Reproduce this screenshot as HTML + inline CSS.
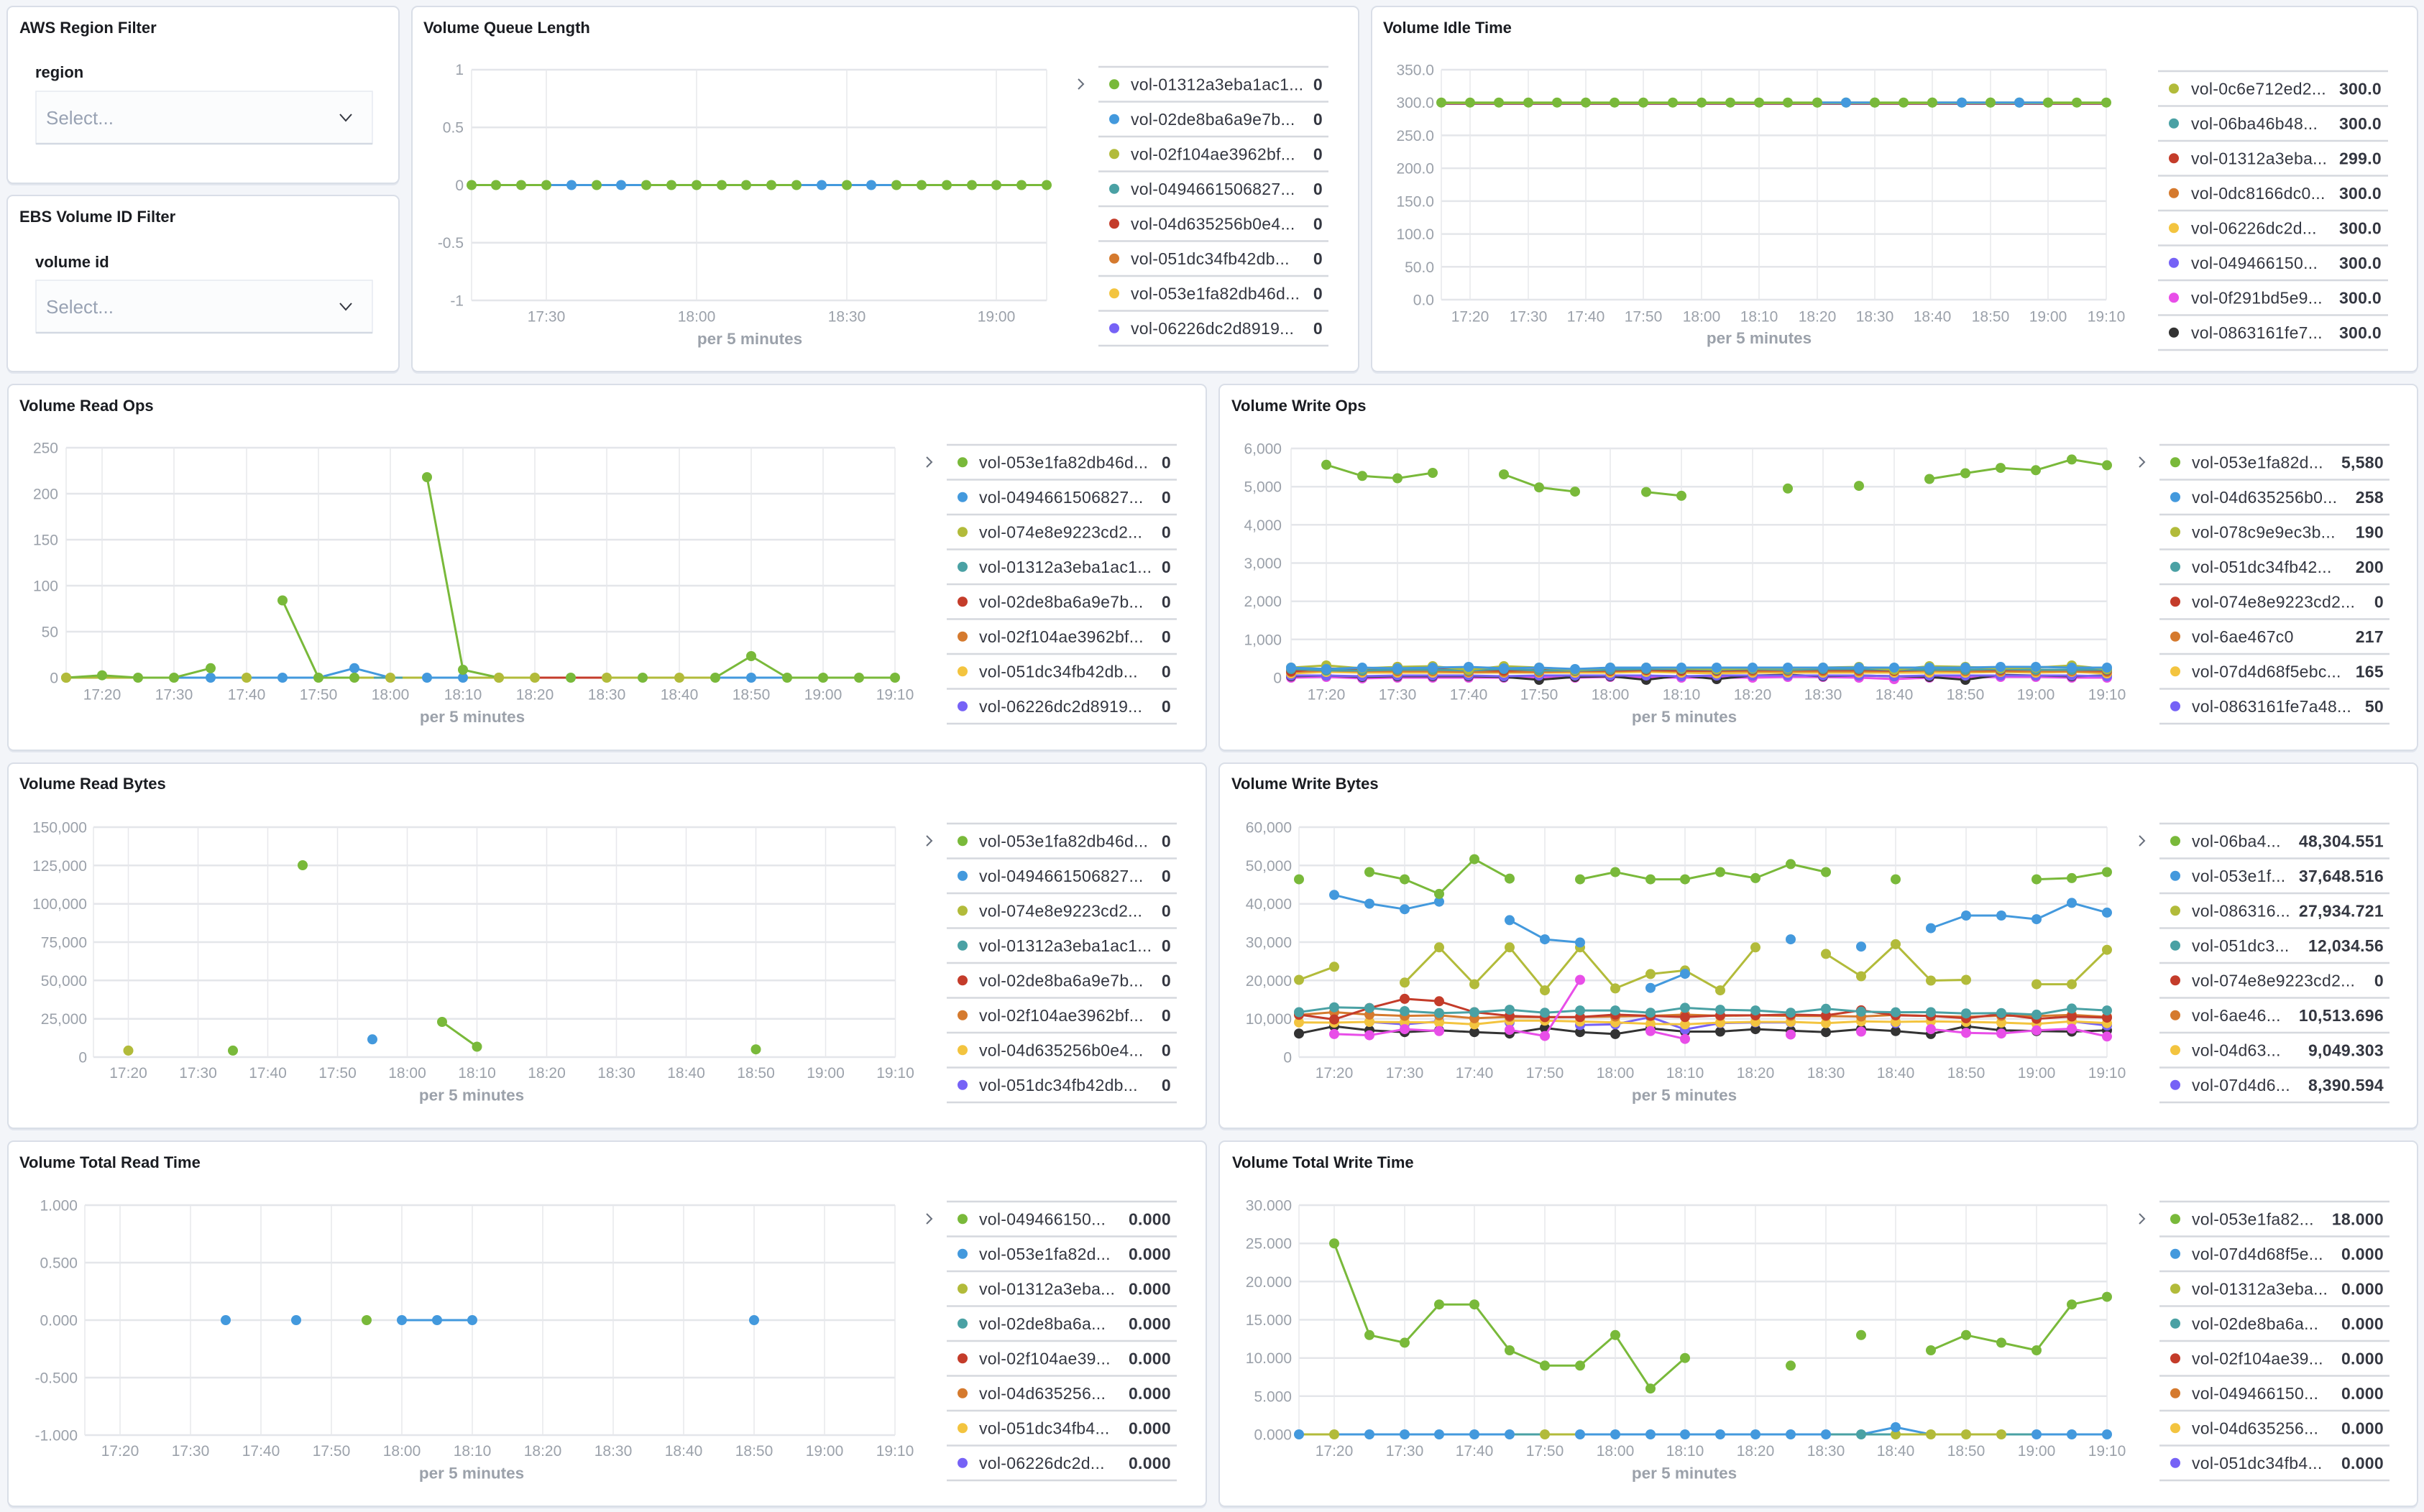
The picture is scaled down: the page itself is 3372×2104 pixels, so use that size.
<!DOCTYPE html>
<html><head><meta charset="utf-8">
<style>
html,body{margin:0;padding:0;background:#f3f5f9;}
svg{display:block}
text{font-family:"Liberation Sans",sans-serif}
.pn{fill:#fff;stroke:#d9dee7;stroke-width:2}
.sh{fill:#e2e6ee}
.t{font-size:22px;font-weight:bold;fill:#1a1c21}
.lb{font-size:22px;font-weight:bold;fill:#1a1c21}
.sel{font-size:26px;fill:#98a2b3}
.yl{font-size:21px;fill:#9ba1aa;text-anchor:end}
.xl{font-size:21px;fill:#9ba1aa;text-anchor:middle}
.ax{font-size:22.5px;font-weight:bold;fill:#9ba1aa;text-anchor:middle}
.hg{stroke:#e4e6ea;stroke-width:2.5;fill:none}
.vg{stroke:#e7e8ec;stroke-width:1.5;fill:none}
.lg{font-size:23px;letter-spacing:0.3px;fill:#343741}
.lv{font-size:23px;letter-spacing:0.3px;font-weight:bold;fill:#343741;text-anchor:end}
.sp{stroke:#d5d8de;stroke-width:2.5;fill:none}
.cv{stroke:#69707d;stroke-width:2;fill:none}
.l{fill:none;stroke-width:3;stroke-linejoin:round}
.d{fill:none;stroke:none}
.cG{stroke:#79b93a}.cB{stroke:#4399dd}.cO{stroke:#b2bb3a}.cT{stroke:#4aa1a4}.cR{stroke:#c43c2a}
.cN{stroke:#d57a2e}.cY{stroke:#f3c43f}.cP{stroke:#7662f6}.cM{stroke:#e84ee8}.cK{stroke:#333333}
.mG{marker-start:url(#G);marker-mid:url(#G);marker-end:url(#G)}
.mB{marker-start:url(#B);marker-mid:url(#B);marker-end:url(#B)}
.mO{marker-start:url(#O);marker-mid:url(#O);marker-end:url(#O)}
.mT{marker-start:url(#T);marker-mid:url(#T);marker-end:url(#T)}
.mR{marker-start:url(#R);marker-mid:url(#R);marker-end:url(#R)}
.mN{marker-start:url(#N);marker-mid:url(#N);marker-end:url(#N)}
.mY{marker-start:url(#Y);marker-mid:url(#Y);marker-end:url(#Y)}
.mP{marker-start:url(#P);marker-mid:url(#P);marker-end:url(#P)}
.mM{marker-start:url(#M);marker-mid:url(#M);marker-end:url(#M)}
.mK{marker-start:url(#K);marker-mid:url(#K);marker-end:url(#K)}
</style></head>
<body>
<svg width="3372" height="2104" viewBox="0 0 3372 2104" xmlns="http://www.w3.org/2000/svg">
<defs>
<marker id="G" markerUnits="userSpaceOnUse" markerWidth="16" markerHeight="16" refX="8" refY="8" viewBox="0 0 16 16"><circle cx="8" cy="8" r="7" fill="#79b93a"/></marker>
<marker id="B" markerUnits="userSpaceOnUse" markerWidth="16" markerHeight="16" refX="8" refY="8" viewBox="0 0 16 16"><circle cx="8" cy="8" r="7" fill="#4399dd"/></marker>
<marker id="O" markerUnits="userSpaceOnUse" markerWidth="16" markerHeight="16" refX="8" refY="8" viewBox="0 0 16 16"><circle cx="8" cy="8" r="7" fill="#b2bb3a"/></marker>
<marker id="T" markerUnits="userSpaceOnUse" markerWidth="16" markerHeight="16" refX="8" refY="8" viewBox="0 0 16 16"><circle cx="8" cy="8" r="7" fill="#4aa1a4"/></marker>
<marker id="R" markerUnits="userSpaceOnUse" markerWidth="16" markerHeight="16" refX="8" refY="8" viewBox="0 0 16 16"><circle cx="8" cy="8" r="7" fill="#c43c2a"/></marker>
<marker id="N" markerUnits="userSpaceOnUse" markerWidth="16" markerHeight="16" refX="8" refY="8" viewBox="0 0 16 16"><circle cx="8" cy="8" r="7" fill="#d57a2e"/></marker>
<marker id="Y" markerUnits="userSpaceOnUse" markerWidth="16" markerHeight="16" refX="8" refY="8" viewBox="0 0 16 16"><circle cx="8" cy="8" r="7" fill="#f3c43f"/></marker>
<marker id="P" markerUnits="userSpaceOnUse" markerWidth="16" markerHeight="16" refX="8" refY="8" viewBox="0 0 16 16"><circle cx="8" cy="8" r="7" fill="#7662f6"/></marker>
<marker id="M" markerUnits="userSpaceOnUse" markerWidth="16" markerHeight="16" refX="8" refY="8" viewBox="0 0 16 16"><circle cx="8" cy="8" r="7" fill="#e84ee8"/></marker>
<marker id="K" markerUnits="userSpaceOnUse" markerWidth="16" markerHeight="16" refX="8" refY="8" viewBox="0 0 16 16"><circle cx="8" cy="8" r="7" fill="#333333"/></marker>
</defs>
<rect x="0" y="0" width="3372" height="2104" fill="#f3f5f9"/>

<!-- panel shadows -->
<g class="sh">
<rect x="10" y="12" width="545" height="246" rx="8"/>
<rect x="10" y="275" width="545" height="245" rx="8"/>
<rect x="573" y="12" width="1317" height="508" rx="8"/>
<rect x="1908" y="12" width="1455" height="508" rx="8"/>
<rect x="11" y="538" width="1667" height="509" rx="8"/>
<rect x="1696" y="538" width="1667" height="509" rx="8"/>
<rect x="11" y="1065" width="1667" height="508" rx="8"/>
<rect x="1696" y="1065" width="1667" height="508" rx="8"/>
<rect x="11" y="1591" width="1667" height="508" rx="8"/>
<rect x="1696" y="1591" width="1667" height="508" rx="8"/>
</g>
<g class="pn">
<rect x="10" y="9" width="545" height="246" rx="8"/>
<rect x="10" y="272" width="545" height="245" rx="8"/>
<rect x="573" y="9" width="1317" height="508" rx="8"/>
<rect x="1908" y="9" width="1455" height="508" rx="8"/>
<rect x="11" y="535" width="1667" height="509" rx="8"/>
<rect x="1696" y="535" width="1667" height="509" rx="8"/>
<rect x="11" y="1062" width="1667" height="508" rx="8"/>
<rect x="1696" y="1062" width="1667" height="508" rx="8"/>
<rect x="11" y="1588" width="1667" height="508" rx="8"/>
<rect x="1696" y="1588" width="1667" height="508" rx="8"/>
</g>

<!-- Filters -->
<text class="t" x="27" y="46">AWS Region Filter</text>
<text class="lb" x="49" y="108">region</text>
<rect x="50" y="127" width="468" height="73" fill="#fbfcfd" stroke="#e6eaf0" stroke-width="1.5"/>
<path d="M50 200H518" stroke="#d3d9e3" stroke-width="2.5"/>
<text class="sel" x="64" y="173">Select...</text>
<polyline points="473,159 481,168 489,159" fill="none" stroke="#343741" stroke-width="2"/>

<text class="t" x="27" y="309">EBS Volume ID Filter</text>
<text class="lb" x="49" y="372">volume id</text>
<rect x="50" y="390" width="468" height="73" fill="#fbfcfd" stroke="#e6eaf0" stroke-width="1.5"/>
<path d="M50 463H518" stroke="#d3d9e3" stroke-width="2.5"/>
<text class="sel" x="64" y="436">Select...</text>
<polyline points="473,422 481,431 489,422" fill="none" stroke="#343741" stroke-width="2"/>

<!-- ================= Volume Queue Length ================= -->
<text class="t" x="589" y="46">Volume Queue Length</text>
<path class="hg" d="M656 97H1456M656 177.25H1456M656 257.5H1456M656 337.75H1456M656 418H1456"/>
<path class="vg" d="M656 97V418M760 97V418M969 97V418M1178 97V418M1386 97V418M1456 97V418"/>
<g class="yl"><text x="645" y="104">1</text><text x="645" y="184.5">0.5</text><text x="645" y="265">0</text><text x="645" y="345">-0.5</text><text x="645" y="425.5">-1</text></g>
<g class="xl"><text x="760" y="447.5">17:30</text><text x="969" y="447.5">18:00</text><text x="1178" y="447.5">18:30</text><text x="1386" y="447.5">19:00</text></g>
<text class="ax" x="1043" y="479">per 5 minutes</text>
<path class="l cG" d="M656 257.5H1456"/>
<path class="l cB" d="M760 257.5H899M1108 257.5H1247"/>
<polyline class="d mG" points="656,257.5 690,257.5 725,257.5 760,257.5 830,257.5 899,257.5 934,257.5 969,257.5 1004,257.5 1038,257.5 1073,257.5 1108,257.5 1178,257.5 1247,257.5 1282,257.5 1317,257.5 1352,257.5 1386,257.5 1421,257.5 1456,257.5"/>
<g fill="#4399dd"><circle cx="795" cy="257.5" r="7"/><circle cx="864" cy="257.5" r="7"/><circle cx="1143" cy="257.5" r="7"/><circle cx="1212" cy="257.5" r="7"/></g>
<g transform="translate(1528,93)">
<polyline class="cv" points="-28,17 -21,24 -28,31"/>
<path class="sp" d="M0 0H320M0 48.5H320M0 97H320M0 145.5H320M0 194H320M0 242.5H320M0 291H320M0 339.5H320M0 388H320"/>
<circle cx="22" cy="24.25" r="7" fill="#79b93a"/><circle cx="22" cy="72.75" r="7" fill="#4399dd"/><circle cx="22" cy="121.25" r="7" fill="#b2bb3a"/><circle cx="22" cy="169.75" r="7" fill="#4aa1a4"/><circle cx="22" cy="218.25" r="7" fill="#c43c2a"/><circle cx="22" cy="266.75" r="7" fill="#d57a2e"/><circle cx="22" cy="315.25" r="7" fill="#f3c43f"/><circle cx="22" cy="363.75" r="7" fill="#7662f6"/>
<g class="lg"><text x="45" y="32.6">vol-01312a3eba1ac1...</text><text x="45" y="81.1">vol-02de8ba6a9e7b...</text><text x="45" y="129.6">vol-02f104ae3962bf...</text><text x="45" y="178.1">vol-0494661506827...</text><text x="45" y="226.6">vol-04d635256b0e4...</text><text x="45" y="275.1">vol-051dc34fb42db...</text><text x="45" y="323.6">vol-053e1fa82db46d...</text><text x="45" y="372.1">vol-06226dc2d8919...</text></g>
<g class="lv"><text x="312" y="32.6">0</text><text x="312" y="81.1">0</text><text x="312" y="129.6">0</text><text x="312" y="178.1">0</text><text x="312" y="226.6">0</text><text x="312" y="275.1">0</text><text x="312" y="323.6">0</text><text x="312" y="372.1">0</text></g>
</g>

<!-- ================= Volume Idle Time ================= -->
<text class="t" x="1924" y="46">Volume Idle Time</text>
<path class="hg" d="M2005 97H2930M2005 142.7H2930M2005 188.4H2930M2005 234.1H2930M2005 279.9H2930M2005 325.6H2930M2005 371.3H2930M2005 417H2930"/>
<path class="vg" d="M2005 97V417M2045 97V417M2126 97V417M2206 97V417M2286 97V417M2367 97V417M2447 97V417M2528 97V417M2608 97V417M2688 97V417M2769 97V417M2849 97V417M2930 97V417"/>
<g class="yl"><text x="1995" y="104.5">350.0</text><text x="1995" y="150.2">300.0</text><text x="1995" y="195.9">250.0</text><text x="1995" y="241.6">200.0</text><text x="1995" y="287.4">150.0</text><text x="1995" y="333.1">100.0</text><text x="1995" y="378.8">50.0</text><text x="1995" y="424.5">0.0</text></g>
<g class="xl"><text x="2045" y="447.5">17:20</text><text x="2126" y="447.5">17:30</text><text x="2206" y="447.5">17:40</text><text x="2286" y="447.5">17:50</text><text x="2367" y="447.5">18:00</text><text x="2447" y="447.5">18:10</text><text x="2528" y="447.5">18:20</text><text x="2608" y="447.5">18:30</text><text x="2688" y="447.5">18:40</text><text x="2769" y="447.5">18:50</text><text x="2849" y="447.5">19:00</text><text x="2930" y="447.5">19:10</text></g>
<text class="ax" x="2447" y="478">per 5 minutes</text>
<path class="l cR" d="M2005 144.5H2930"/>
<path class="l cP" d="M2005 144H2930"/>
<path class="l cO" d="M2005 143.5H2930"/>
<polyline class="l cG mG" points="2005,142.7 2045,142.7 2085,142.7 2126,142.7 2166,142.7 2206,142.7 2246,142.7 2286,142.7 2327,142.7 2367,142.7 2407,142.7 2447,142.7 2487,142.7 2528,142.7 2568,142.7 2608,142.7 2648,142.7 2688,142.7 2729,142.7 2769,142.7 2809,142.7 2849,142.7 2889,142.7 2930,142.7"/>
<path class="l cB" d="M2528 142.7H2608M2688 142.7H2849"/>
<g fill="#4399dd"><circle cx="2568" cy="142.7" r="7"/><circle cx="2729" cy="142.7" r="7"/><circle cx="2809" cy="142.7" r="7"/></g>
<polyline class="d mG" points="2528,142.7 2608,142.7 2688,142.7 2769,142.7 2849,142.7"/>
<g transform="translate(3002,99)">
<path class="sp" d="M0 0H320M0 48.5H320M0 97H320M0 145.5H320M0 194H320M0 242.5H320M0 291H320M0 339.5H320M0 388H320"/>
<circle cx="22" cy="24.25" r="7" fill="#b2bb3a"/><circle cx="22" cy="72.75" r="7" fill="#4aa1a4"/><circle cx="22" cy="121.25" r="7" fill="#c43c2a"/><circle cx="22" cy="169.75" r="7" fill="#d57a2e"/><circle cx="22" cy="218.25" r="7" fill="#f3c43f"/><circle cx="22" cy="266.75" r="7" fill="#7662f6"/><circle cx="22" cy="315.25" r="7" fill="#e84ee8"/><circle cx="22" cy="363.75" r="7" fill="#333333"/>
<g class="lg"><text x="46" y="32.6">vol-0c6e712ed2...</text><text x="46" y="81.1">vol-06ba46b48...</text><text x="46" y="129.6">vol-01312a3eba...</text><text x="46" y="178.1">vol-0dc8166dc0...</text><text x="46" y="226.6">vol-06226dc2d...</text><text x="46" y="275.1">vol-049466150...</text><text x="46" y="323.6">vol-0f291bd5e9...</text><text x="46" y="372.1">vol-0863161fe7...</text></g>
<g class="lv"><text x="311" y="32.6">300.0</text><text x="311" y="81.1">300.0</text><text x="311" y="129.6">299.0</text><text x="311" y="178.1">300.0</text><text x="311" y="226.6">300.0</text><text x="311" y="275.1">300.0</text><text x="311" y="323.6">300.0</text><text x="311" y="372.1">300.0</text></g>
</g>

<!-- ================= Volume Read Ops ================= -->
<text class="t" x="27" y="572">Volume Read Ops</text>
<path class="hg" d="M92 623H1245M92 687H1245M92 751H1245M92 815H1245M92 879H1245M92 943H1245"/>
<path class="vg" d="M92 623V943M142 623V943M242 623V943M343 623V943M443 623V943M543 623V943M644 623V943M744 623V943M844 623V943M945 623V943M1045 623V943M1145 623V943M1245 623V943"/>
<g class="yl"><text x="81" y="630.5">250</text><text x="81" y="694.5">200</text><text x="81" y="758.5">150</text><text x="81" y="822.5">100</text><text x="81" y="886.5">50</text><text x="81" y="950.5">0</text></g>
<g class="xl"><text x="142" y="973.5">17:20</text><text x="242" y="973.5">17:30</text><text x="343" y="973.5">17:40</text><text x="443" y="973.5">17:50</text><text x="543" y="973.5">18:00</text><text x="644" y="973.5">18:10</text><text x="744" y="973.5">18:20</text><text x="844" y="973.5">18:30</text><text x="945" y="973.5">18:40</text><text x="1045" y="973.5">18:50</text><text x="1145" y="973.5">19:00</text><text x="1245" y="973.5">19:10</text></g>
<text class="ax" x="657" y="1005">per 5 minutes</text>
<path class="l cO" d="M92 943H1245"/>
<path class="l cT" d="M520 943H560"/>
<path class="l cR" d="M744 943H844"/>
<path class="l cB" d="M242 943H443L493 929.8L543 943M594 943H644M995 943H1095"/>
<g fill="#4399dd"><circle cx="293" cy="943" r="7"/><circle cx="393" cy="943" r="7"/><circle cx="493" cy="929.8" r="7"/><circle cx="594" cy="943" r="7"/><circle cx="644" cy="943" r="7"/><circle cx="1045" cy="943" r="7"/></g>
<polyline class="l cG mG" points="92,943 142,939.7 192,943 242,943 293,929.8"/>
<polyline class="l cG mG" points="393,835.5 443,943 493,943"/>
<polyline class="l cG mG" points="594,664 644,932 694,943"/>
<polyline class="l cG mG" points="995,943 1045,913 1095,943 1145,943 1195,943 1245,943"/>
<polyline class="d mG" points="794,943 894,943"/>
<polyline class="d mO" points="92,943 343,943 543,943 694,943 744,943 844,943 945,943"/>
<g transform="translate(1317,619)">
<polyline class="cv" points="-28,17 -21,24 -28,31"/>
<path class="sp" d="M0 0H320M0 48.5H320M0 97H320M0 145.5H320M0 194H320M0 242.5H320M0 291H320M0 339.5H320M0 388H320"/>
<circle cx="22" cy="24.25" r="7" fill="#79b93a"/><circle cx="22" cy="72.75" r="7" fill="#4399dd"/><circle cx="22" cy="121.25" r="7" fill="#b2bb3a"/><circle cx="22" cy="169.75" r="7" fill="#4aa1a4"/><circle cx="22" cy="218.25" r="7" fill="#c43c2a"/><circle cx="22" cy="266.75" r="7" fill="#d57a2e"/><circle cx="22" cy="315.25" r="7" fill="#f3c43f"/><circle cx="22" cy="363.75" r="7" fill="#7662f6"/>
<g class="lg"><text x="45" y="32.6">vol-053e1fa82db46d...</text><text x="45" y="81.1">vol-0494661506827...</text><text x="45" y="129.6">vol-074e8e9223cd2...</text><text x="45" y="178.1">vol-01312a3eba1ac1...</text><text x="45" y="226.6">vol-02de8ba6a9e7b...</text><text x="45" y="275.1">vol-02f104ae3962bf...</text><text x="45" y="323.6">vol-051dc34fb42db...</text><text x="45" y="372.1">vol-06226dc2d8919...</text></g>
<g class="lv"><text x="312" y="32.6">0</text><text x="312" y="81.1">0</text><text x="312" y="129.6">0</text><text x="312" y="178.1">0</text><text x="312" y="226.6">0</text><text x="312" y="275.1">0</text><text x="312" y="323.6">0</text><text x="312" y="372.1">0</text></g>
</g>

<!-- ================= Volume Write Ops ================= -->
<text class="t" x="1713" y="572">Volume Write Ops</text>
<path class="hg" d="M1796 624H2931M1796 677.2H2931M1796 730.3H2931M1796 783.5H2931M1796 836.7H2931M1796 889.8H2931M1796 943H2931"/>
<path class="vg" d="M1796 624V943M1845 624V943M1944 624V943M2043 624V943M2141 624V943M2240 624V943M2339 624V943M2438 624V943M2536 624V943M2635 624V943M2734 624V943M2832 624V943M2931 624V943"/>
<g class="yl"><text x="1783" y="631.5">6,000</text><text x="1783" y="684.7">5,000</text><text x="1783" y="737.8">4,000</text><text x="1783" y="791">3,000</text><text x="1783" y="844.2">2,000</text><text x="1783" y="897.3">1,000</text><text x="1783" y="950.5">0</text></g>
<g class="xl"><text x="1845" y="973.5">17:20</text><text x="1944" y="973.5">17:30</text><text x="2043" y="973.5">17:40</text><text x="2141" y="973.5">17:50</text><text x="2240" y="973.5">18:00</text><text x="2339" y="973.5">18:10</text><text x="2438" y="973.5">18:20</text><text x="2536" y="973.5">18:30</text><text x="2635" y="973.5">18:40</text><text x="2734" y="973.5">18:50</text><text x="2832" y="973.5">19:00</text><text x="2931" y="973.5">19:10</text></g>
<text class="ax" x="2343" y="1005">per 5 minutes</text>
<polyline class="l cM mM" points="1796,943 1845,942 1895,944 1944,943 1993,943 2043,943 2092,943 2141,943 2191,943 2240,942 2290,943 2339,943 2388,943 2438,943 2487,942 2536,942 2586,943 2635,945 2684,943 2734,943 2783,942 2832,942 2882,943 2931,943"/>
<polyline class="l cK mK" points="1796,941 1845,940 1895,942 1944,941 1993,941 2043,941 2092,942 2141,946 2191,942 2240,941 2290,946 2339,940 2388,945 2438,940 2487,939 2536,941 2586,940 2635,941 2684,942 2734,946 2783,939 2832,940 2882,941 2931,940"/>
<polyline class="l cP mP" points="1796,940 1845,940 1895,941 1944,940 1993,940 2043,940 2092,941 2141,940 2191,940 2240,940 2290,940 2339,941 2388,940 2438,940 2487,940 2536,940 2586,940 2635,941 2684,940 2734,940 2783,940 2832,940 2882,940 2931,941"/>
<polyline class="l cY mY" points="1796,937 1845,935 1895,936 1944,936 1993,936 2043,936 2092,936 2141,936 2191,936 2240,936 2290,935 2339,936 2388,937 2438,936 2487,936 2536,936 2586,936 2635,936 2684,936 2734,936 2783,935 2832,936 2882,935 2931,937"/>
<polyline class="l cN mN" points="1796,935 1845,933 1895,934 1944,934 1993,934 2043,935 2092,935 2141,935 2191,934 2240,934 2290,933 2339,934 2388,934 2438,934 2487,934 2536,934 2586,934 2635,934 2684,933 2734,934 2783,934 2832,934 2882,934 2931,935"/>
<polyline class="l cR mR" points="1796,934 1845,930 1895,932 1944,928 1993,929 2043,932 2092,933 2141,932 2191,933 2240,933 2290,932 2339,933 2388,933 2438,932 2487,932 2536,932 2586,932 2635,933 2684,932 2734,932 2783,932 2832,932 2882,932 2931,933"/>
<polyline class="l cT mT" points="1796,931 1845,933 1895,933 1944,932 1993,932 2043,933 2092,931 2141,933 2191,933 2240,932 2290,931 2339,931 2388,932 2438,931 2487,932 2536,931 2586,931 2635,932 2684,932 2734,932 2783,931 2832,932 2882,932 2931,932"/>
<polyline class="l cO mO" points="1796,929 1845,926 1895,930 1944,928 1993,927 2043,932 2092,927 2141,929 2191,932 2240,929 2290,929 2339,930 2388,931 2438,930 2487,930 2536,929 2586,928 2635,932 2684,927 2734,928 2783,930 2832,929 2882,926 2931,931"/>
<polyline class="l cB mB" points="1796,929 1845,931 1895,929 1944,930 1993,929 2043,928 2092,930 2141,929 2191,931 2240,929 2290,929 2339,929 2388,929 2438,929 2487,929 2536,929 2586,929 2635,929 2684,929 2734,929 2783,928 2832,928 2882,929 2931,929"/>
<polyline class="l cG mG" points="1845,646.8 1895,662.3 1944,665.5 1993,658"/>
<polyline class="l cG mG" points="2092,660.1 2141,678.2 2191,684.1"/>
<polyline class="l cG mG" points="2290,684.6 2339,689.9"/>
<polyline class="d mG" points="2487,679.8 2586,676.1"/>
<polyline class="l cG mG" points="2684,666.5 2734,658.5 2783,651.1 2832,654.3 2882,639.4 2931,647.4"/>
<g transform="translate(3004,619)">
<polyline class="cv" points="-28,17 -21,24 -28,31"/>
<path class="sp" d="M0 0H320M0 48.5H320M0 97H320M0 145.5H320M0 194H320M0 242.5H320M0 291H320M0 339.5H320M0 388H320"/>
<circle cx="22" cy="24.25" r="7" fill="#79b93a"/><circle cx="22" cy="72.75" r="7" fill="#4399dd"/><circle cx="22" cy="121.25" r="7" fill="#b2bb3a"/><circle cx="22" cy="169.75" r="7" fill="#4aa1a4"/><circle cx="22" cy="218.25" r="7" fill="#c43c2a"/><circle cx="22" cy="266.75" r="7" fill="#d57a2e"/><circle cx="22" cy="315.25" r="7" fill="#f3c43f"/><circle cx="22" cy="363.75" r="7" fill="#7662f6"/>
<g class="lg"><text x="45" y="32.6">vol-053e1fa82d...</text><text x="45" y="81.1">vol-04d635256b0...</text><text x="45" y="129.6">vol-078c9e9ec3b...</text><text x="45" y="178.1">vol-051dc34fb42...</text><text x="45" y="226.6">vol-074e8e9223cd2...</text><text x="45" y="275.1">vol-6ae467c0</text><text x="45" y="323.6">vol-07d4d68f5ebc...</text><text x="45" y="372.1">vol-0863161fe7a48...</text></g>
<g class="lv"><text x="312" y="32.6">5,580</text><text x="312" y="81.1">258</text><text x="312" y="129.6">190</text><text x="312" y="178.1">200</text><text x="312" y="226.6">0</text><text x="312" y="275.1">217</text><text x="312" y="323.6">165</text><text x="312" y="372.1">50</text></g>
</g>

<!-- ================= Volume Read Bytes ================= -->
<text class="t" x="27" y="1098">Volume Read Bytes</text>
<path class="hg" d="M130 1151H1245.5M130 1204.3H1245.5M130 1257.7H1245.5M130 1311H1245.5M130 1364.3H1245.5M130 1417.7H1245.5M130 1471H1245.5"/>
<path class="vg" d="M130 1151V1471M178.5 1151V1471M275.5 1151V1471M372.5 1151V1471M469.5 1151V1471M566.5 1151V1471M663.5 1151V1471M760.5 1151V1471M857.5 1151V1471M954.5 1151V1471M1051.5 1151V1471M1148.5 1151V1471M1245.5 1151V1471"/>
<g class="yl"><text x="121" y="1158.5">150,000</text><text x="121" y="1211.8">125,000</text><text x="121" y="1265.2">100,000</text><text x="121" y="1318.5">75,000</text><text x="121" y="1371.8">50,000</text><text x="121" y="1425.2">25,000</text><text x="121" y="1478.5">0</text></g>
<g class="xl"><text x="178.5" y="1500">17:20</text><text x="275.5" y="1500">17:30</text><text x="372.5" y="1500">17:40</text><text x="469.5" y="1500">17:50</text><text x="566.5" y="1500">18:00</text><text x="663.5" y="1500">18:10</text><text x="760.5" y="1500">18:20</text><text x="857.5" y="1500">18:30</text><text x="954.5" y="1500">18:40</text><text x="1051.5" y="1500">18:50</text><text x="1148.5" y="1500">19:00</text><text x="1245.5" y="1500">19:10</text></g>
<text class="ax" x="656" y="1531.5">per 5 minutes</text>
<circle cx="178.5" cy="1461.9" r="7" fill="#b2bb3a"/>
<circle cx="518" cy="1446.3" r="7" fill="#4399dd"/>
<polyline class="d mG" points="324,1461.9 421,1204 1051.5,1460.2"/>
<polyline class="l cG mG" points="615,1422 663.5,1456.5"/>
<g transform="translate(1317,1146)">
<polyline class="cv" points="-28,17 -21,24 -28,31"/>
<path class="sp" d="M0 0H320M0 48.5H320M0 97H320M0 145.5H320M0 194H320M0 242.5H320M0 291H320M0 339.5H320M0 388H320"/>
<circle cx="22" cy="24.25" r="7" fill="#79b93a"/><circle cx="22" cy="72.75" r="7" fill="#4399dd"/><circle cx="22" cy="121.25" r="7" fill="#b2bb3a"/><circle cx="22" cy="169.75" r="7" fill="#4aa1a4"/><circle cx="22" cy="218.25" r="7" fill="#c43c2a"/><circle cx="22" cy="266.75" r="7" fill="#d57a2e"/><circle cx="22" cy="315.25" r="7" fill="#f3c43f"/><circle cx="22" cy="363.75" r="7" fill="#7662f6"/>
<g class="lg"><text x="45" y="32.6">vol-053e1fa82db46d...</text><text x="45" y="81.1">vol-0494661506827...</text><text x="45" y="129.6">vol-074e8e9223cd2...</text><text x="45" y="178.1">vol-01312a3eba1ac1...</text><text x="45" y="226.6">vol-02de8ba6a9e7b...</text><text x="45" y="275.1">vol-02f104ae3962bf...</text><text x="45" y="323.6">vol-04d635256b0e4...</text><text x="45" y="372.1">vol-051dc34fb42db...</text></g>
<g class="lv"><text x="312" y="32.6">0</text><text x="312" y="81.1">0</text><text x="312" y="129.6">0</text><text x="312" y="178.1">0</text><text x="312" y="226.6">0</text><text x="312" y="275.1">0</text><text x="312" y="323.6">0</text><text x="312" y="372.1">0</text></g>
</g>

<!-- ================= Volume Write Bytes ================= -->
<text class="t" x="1713" y="1098">Volume Write Bytes</text>
<path class="hg" d="M1807 1151H2931M1807 1204.3H2931M1807 1257.7H2931M1807 1311H2931M1807 1364.3H2931M1807 1417.7H2931M1807 1471H2931"/>
<path class="vg" d="M1807 1151V1471M1856 1151V1471M1954 1151V1471M2051 1151V1471M2149 1151V1471M2247 1151V1471M2344 1151V1471M2442 1151V1471M2540 1151V1471M2637 1151V1471M2735 1151V1471M2833 1151V1471M2931 1151V1471"/>
<g class="yl"><text x="1797" y="1158.5">60,000</text><text x="1797" y="1211.8">50,000</text><text x="1797" y="1265.2">40,000</text><text x="1797" y="1318.5">30,000</text><text x="1797" y="1371.8">20,000</text><text x="1797" y="1425.2">10,000</text><text x="1797" y="1478.5">0</text></g>
<g class="xl"><text x="1856" y="1500">17:20</text><text x="1954" y="1500">17:30</text><text x="2051" y="1500">17:40</text><text x="2149" y="1500">17:50</text><text x="2247" y="1500">18:00</text><text x="2344" y="1500">18:10</text><text x="2442" y="1500">18:20</text><text x="2540" y="1500">18:30</text><text x="2637" y="1500">18:40</text><text x="2735" y="1500">18:50</text><text x="2833" y="1500">19:00</text><text x="2931" y="1500">19:10</text></g>
<text class="ax" x="2343" y="1531.5">per 5 minutes</text>
<polyline class="l cK mK" points="1807,1438.2 1856,1428.1 1905,1433.7 1954,1436.2 2002,1433.8 2051,1436.2 2100,1438.2 2149,1430.5 2198,1436.2 2247,1438.9 2296,1431.1 2344,1435.5 2393,1435.5 2442,1432.1 2491,1434.2 2540,1436.2 2589,1432.1 2637,1434.8 2686,1438.9 2735,1428.1 2784,1433.7 2833,1434.8 2882,1435.5 2931,1433.8"/>
<polyline class="l cP mP" points="1905,1422 1954,1425.4 2002,1421.3"/>
<polyline class="l cP mP" points="2198,1426.4 2247,1425.4 2296,1415.3 2344,1432.5 2393,1423.7 2442,1422.7 2491,1422.7"/>
<polyline class="l cP mP" points="2882,1421.3 2931,1427"/>
<polyline class="d mP" points="2100,1422.7 2637,1423.7"/>
<polyline class="l cY mY" points="1807,1422.7 1856,1423 1905,1422 1954,1422.5 2002,1422.7 2051,1425.4 2100,1420.3 2149,1420.3 2198,1421.5 2247,1422.7 2296,1424.7 2344,1425.4 2393,1423 2442,1422 2491,1422 2540,1423.7 2589,1421.3 2637,1422 2686,1421.3 2735,1422 2784,1423 2833,1424.7 2882,1421.3 2931,1423.7"/>
<polyline class="l cN mN" points="1807,1412.3 1856,1408.5 1905,1411.9 1954,1413.6 2002,1412.9 2051,1416.9 2100,1415 2149,1415.5 2198,1415.3 2247,1414.5 2296,1413.6 2344,1411.9 2393,1413.6 2442,1412.9 2491,1413.6 2540,1413.9 2589,1414.5 2637,1412.3 2686,1413.9 2735,1415 2784,1413.4 2833,1413.9 2882,1412.3 2931,1415"/>
<polyline class="l cR mR" points="1807,1411.9 1856,1418.6 1905,1402.7 1954,1389.9 2002,1393.3 2051,1408.5 2100,1413.6 2149,1415.3 2198,1415.3 2247,1411.9 2296,1413.6 2344,1415.3 2393,1412.9 2442,1412.9 2491,1411.9 2540,1412.9 2589,1405.9 2637,1412.9 2686,1413.6 2735,1416.9 2784,1411.3 2833,1417.7 2882,1414.5 2931,1416.1"/>
<polyline class="l cT mT" points="1807,1408.5 1856,1401.7 1905,1402.7 1954,1407 2002,1409.7 2051,1408.5 2100,1405.1 2149,1409.2 2198,1406.1 2247,1406.1 2296,1409.2 2344,1402.4 2393,1405.1 2442,1406.1 2491,1409.2 2540,1403.8 2589,1407.8 2637,1408.6 2686,1408.5 2735,1410.2 2784,1409.7 2833,1411.9 2882,1403.4 2931,1406.1"/>
<polyline class="l cM mM" points="1856,1438.9 1905,1440.6 1954,1432.1 2002,1434.8"/>
<polyline class="l cM mM" points="2100,1433.1 2149,1441.6 2198,1363.5"/>
<polyline class="l cM mM" points="2296,1434.8 2344,1445.7"/>
<polyline class="d mM" points="2491,1439.6 2589,1435.5"/>
<polyline class="l cM mM" points="2686,1432.1 2735,1437.2 2784,1438.2 2833,1433.8 2882,1431.5 2931,1442.3"/>
<polyline class="l cO mO" points="1807,1363.5 1856,1345.3"/>
<polyline class="l cO mO" points="1954,1367.3 2002,1318.3 2051,1369.6 2100,1318.3 2149,1378.1 2198,1318.3 2247,1375.4 2296,1355.4 2344,1350.4 2393,1378.1 2442,1318.3"/>
<polyline class="l cO mO" points="2540,1327.4 2589,1358.5 2637,1313.9 2686,1364.5 2735,1363.5"/>
<polyline class="l cO mO" points="2833,1369.6 2882,1369.6 2931,1321.7"/>
<polyline class="l cB mB" points="1856,1245.3 1905,1257.5 1954,1265.2 2002,1254.7"/>
<polyline class="l cB mB" points="2100,1280.4 2149,1307.1 2198,1311.5"/>
<polyline class="l cB mB" points="2296,1374.7 2344,1355.1"/>
<polyline class="d mB" points="2491,1307.1 2589,1317.2"/>
<polyline class="l cB mB" points="2686,1291.6 2735,1274 2784,1274 2833,1279.1 2882,1256.4 2931,1269.9"/>
<polyline class="d mG" points="1807,1223.6 2637,1223.6"/>
<polyline class="l cG mG" points="1905,1213.5 1954,1223.6 2002,1243.9 2051,1195.6 2100,1222.6"/>
<polyline class="l cG mG" points="2198,1223.6 2247,1213.5 2296,1223.6 2344,1223.6 2393,1213.5 2442,1221.9 2491,1202.4 2540,1213.5"/>
<polyline class="l cG mG" points="2833,1223.6 2882,1221.9 2931,1213.5"/>
<g transform="translate(3004,1146)">
<polyline class="cv" points="-28,17 -21,24 -28,31"/>
<path class="sp" d="M0 0H320M0 48.5H320M0 97H320M0 145.5H320M0 194H320M0 242.5H320M0 291H320M0 339.5H320M0 388H320"/>
<circle cx="22" cy="24.25" r="7" fill="#79b93a"/><circle cx="22" cy="72.75" r="7" fill="#4399dd"/><circle cx="22" cy="121.25" r="7" fill="#b2bb3a"/><circle cx="22" cy="169.75" r="7" fill="#4aa1a4"/><circle cx="22" cy="218.25" r="7" fill="#c43c2a"/><circle cx="22" cy="266.75" r="7" fill="#d57a2e"/><circle cx="22" cy="315.25" r="7" fill="#f3c43f"/><circle cx="22" cy="363.75" r="7" fill="#7662f6"/>
<g class="lg"><text x="45" y="32.6">vol-06ba4...</text><text x="45" y="81.1">vol-053e1f...</text><text x="45" y="129.6">vol-086316...</text><text x="45" y="178.1">vol-051dc3...</text><text x="45" y="226.6">vol-074e8e9223cd2...</text><text x="45" y="275.1">vol-6ae46...</text><text x="45" y="323.6">vol-04d63...</text><text x="45" y="372.1">vol-07d4d6...</text></g>
<g class="lv"><text x="312" y="32.6">48,304.551</text><text x="312" y="81.1">37,648.516</text><text x="312" y="129.6">27,934.721</text><text x="312" y="178.1">12,034.56</text><text x="312" y="226.6">0</text><text x="312" y="275.1">10,513.696</text><text x="312" y="323.6">9,049.303</text><text x="312" y="372.1">8,390.594</text></g>
</g>

<!-- ================= Volume Total Read Time ================= -->
<text class="t" x="27" y="1625">Volume Total Read Time</text>
<path class="hg" d="M118 1677H1245M118 1757H1245M118 1837H1245M118 1917H1245M118 1997H1245"/>
<path class="vg" d="M118 1677V1997M167 1677V1997M265 1677V1997M363 1677V1997M461 1677V1997M559 1677V1997M657 1677V1997M755 1677V1997M853 1677V1997M951 1677V1997M1049 1677V1997M1147 1677V1997M1245 1677V1997"/>
<g class="yl"><text x="108" y="1684.5">1.000</text><text x="108" y="1764.5">0.500</text><text x="108" y="1844.5">0.000</text><text x="108" y="1924.5">-0.500</text><text x="108" y="2004.5">-1.000</text></g>
<g class="xl"><text x="167" y="2026">17:20</text><text x="265" y="2026">17:30</text><text x="363" y="2026">17:40</text><text x="461" y="2026">17:50</text><text x="559" y="2026">18:00</text><text x="657" y="2026">18:10</text><text x="755" y="2026">18:20</text><text x="853" y="2026">18:30</text><text x="951" y="2026">18:40</text><text x="1049" y="2026">18:50</text><text x="1147" y="2026">19:00</text><text x="1245" y="2026">19:10</text></g>
<text class="ax" x="656" y="2057.5">per 5 minutes</text>
<polyline class="d mB" points="314,1837 412,1837 1049,1837"/>
<polyline class="l cB mB" points="559,1837 608,1837 657,1837"/>
<circle cx="510" cy="1837" r="7" fill="#79b93a"/>
<g transform="translate(1317,1672)">
<polyline class="cv" points="-28,17 -21,24 -28,31"/>
<path class="sp" d="M0 0H320M0 48.5H320M0 97H320M0 145.5H320M0 194H320M0 242.5H320M0 291H320M0 339.5H320M0 388H320"/>
<circle cx="22" cy="24.25" r="7" fill="#79b93a"/><circle cx="22" cy="72.75" r="7" fill="#4399dd"/><circle cx="22" cy="121.25" r="7" fill="#b2bb3a"/><circle cx="22" cy="169.75" r="7" fill="#4aa1a4"/><circle cx="22" cy="218.25" r="7" fill="#c43c2a"/><circle cx="22" cy="266.75" r="7" fill="#d57a2e"/><circle cx="22" cy="315.25" r="7" fill="#f3c43f"/><circle cx="22" cy="363.75" r="7" fill="#7662f6"/>
<g class="lg"><text x="45" y="32.6">vol-049466150...</text><text x="45" y="81.1">vol-053e1fa82d...</text><text x="45" y="129.6">vol-01312a3eba...</text><text x="45" y="178.1">vol-02de8ba6a...</text><text x="45" y="226.6">vol-02f104ae39...</text><text x="45" y="275.1">vol-04d635256...</text><text x="45" y="323.6">vol-051dc34fb4...</text><text x="45" y="372.1">vol-06226dc2d...</text></g>
<g class="lv"><text x="312" y="32.6">0.000</text><text x="312" y="81.1">0.000</text><text x="312" y="129.6">0.000</text><text x="312" y="178.1">0.000</text><text x="312" y="226.6">0.000</text><text x="312" y="275.1">0.000</text><text x="312" y="323.6">0.000</text><text x="312" y="372.1">0.000</text></g>
</g>

<!-- ================= Volume Total Write Time ================= -->
<text class="t" x="1714" y="1625">Volume Total Write Time</text>
<path class="hg" d="M1807 1677H2931M1807 1730.2H2931M1807 1783.3H2931M1807 1836.5H2931M1807 1889.7H2931M1807 1942.8H2931M1807 1996H2931"/>
<path class="vg" d="M1807 1677V1996M1856 1677V1996M1954 1677V1996M2051 1677V1996M2149 1677V1996M2247 1677V1996M2344 1677V1996M2442 1677V1996M2540 1677V1996M2637 1677V1996M2735 1677V1996M2833 1677V1996M2931 1677V1996"/>
<g class="yl"><text x="1797" y="1684.5">30.000</text><text x="1797" y="1737.7">25.000</text><text x="1797" y="1790.8">20.000</text><text x="1797" y="1844">15.000</text><text x="1797" y="1897.2">10.000</text><text x="1797" y="1950.3">5.000</text><text x="1797" y="2003.5">0.000</text></g>
<g class="xl"><text x="1856" y="2026">17:20</text><text x="1954" y="2026">17:30</text><text x="2051" y="2026">17:40</text><text x="2149" y="2026">17:50</text><text x="2247" y="2026">18:00</text><text x="2344" y="2026">18:10</text><text x="2442" y="2026">18:20</text><text x="2540" y="2026">18:30</text><text x="2637" y="2026">18:40</text><text x="2735" y="2026">18:50</text><text x="2833" y="2026">19:00</text><text x="2931" y="2026">19:10</text></g>
<text class="ax" x="2343" y="2057.5">per 5 minutes</text>
<path class="l cB" d="M1807 1996H2589L2637 1986L2686 1996H2931"/>
<path class="l cO" d="M1807 1996H1856M2149 1996H2198M2637 1996H2784"/>
<path class="l cT" d="M2100 1996H2149M2540 1996H2637M2784 1996H2833"/>
<polyline class="d mB" points="1807,1996 1905,1996 1954,1996 2002,1996 2051,1996 2100,1996 2198,1996 2247,1996 2296,1996 2344,1996 2393,1996 2442,1996 2491,1996 2540,1996 2833,1996 2882,1996 2931,1996"/>
<polyline class="d mO" points="1856,1996 2149,1996 2637,1996 2686,1996 2735,1996 2784,1996"/>
<circle cx="2589" cy="1996" r="7" fill="#4aa1a4"/>
<circle cx="2637" cy="1986" r="7" fill="#4399dd"/>
<polyline class="l cG mG" points="1856,1730.2 1905,1857.8 1954,1868.4 2002,1815.2 2051,1815.2 2100,1879 2149,1900.3 2198,1900.3 2247,1857.8 2296,1932.2 2344,1889.7"/>
<polyline class="d mG" points="2491,1900.3 2589,1857.8"/>
<polyline class="l cG mG" points="2686,1879 2735,1857.8 2784,1868.4 2833,1879 2882,1815.2 2931,1804.6"/>
<g transform="translate(3004,1672)">
<polyline class="cv" points="-28,17 -21,24 -28,31"/>
<path class="sp" d="M0 0H320M0 48.5H320M0 97H320M0 145.5H320M0 194H320M0 242.5H320M0 291H320M0 339.5H320M0 388H320"/>
<circle cx="22" cy="24.25" r="7" fill="#79b93a"/><circle cx="22" cy="72.75" r="7" fill="#4399dd"/><circle cx="22" cy="121.25" r="7" fill="#b2bb3a"/><circle cx="22" cy="169.75" r="7" fill="#4aa1a4"/><circle cx="22" cy="218.25" r="7" fill="#c43c2a"/><circle cx="22" cy="266.75" r="7" fill="#d57a2e"/><circle cx="22" cy="315.25" r="7" fill="#f3c43f"/><circle cx="22" cy="363.75" r="7" fill="#7662f6"/>
<g class="lg"><text x="45" y="32.6">vol-053e1fa82...</text><text x="45" y="81.1">vol-07d4d68f5e...</text><text x="45" y="129.6">vol-01312a3eba...</text><text x="45" y="178.1">vol-02de8ba6a...</text><text x="45" y="226.6">vol-02f104ae39...</text><text x="45" y="275.1">vol-049466150...</text><text x="45" y="323.6">vol-04d635256...</text><text x="45" y="372.1">vol-051dc34fb4...</text></g>
<g class="lv"><text x="312" y="32.6">18.000</text><text x="312" y="81.1">0.000</text><text x="312" y="129.6">0.000</text><text x="312" y="178.1">0.000</text><text x="312" y="226.6">0.000</text><text x="312" y="275.1">0.000</text><text x="312" y="323.6">0.000</text><text x="312" y="372.1">0.000</text></g>
</g>
</svg>
</body></html>
